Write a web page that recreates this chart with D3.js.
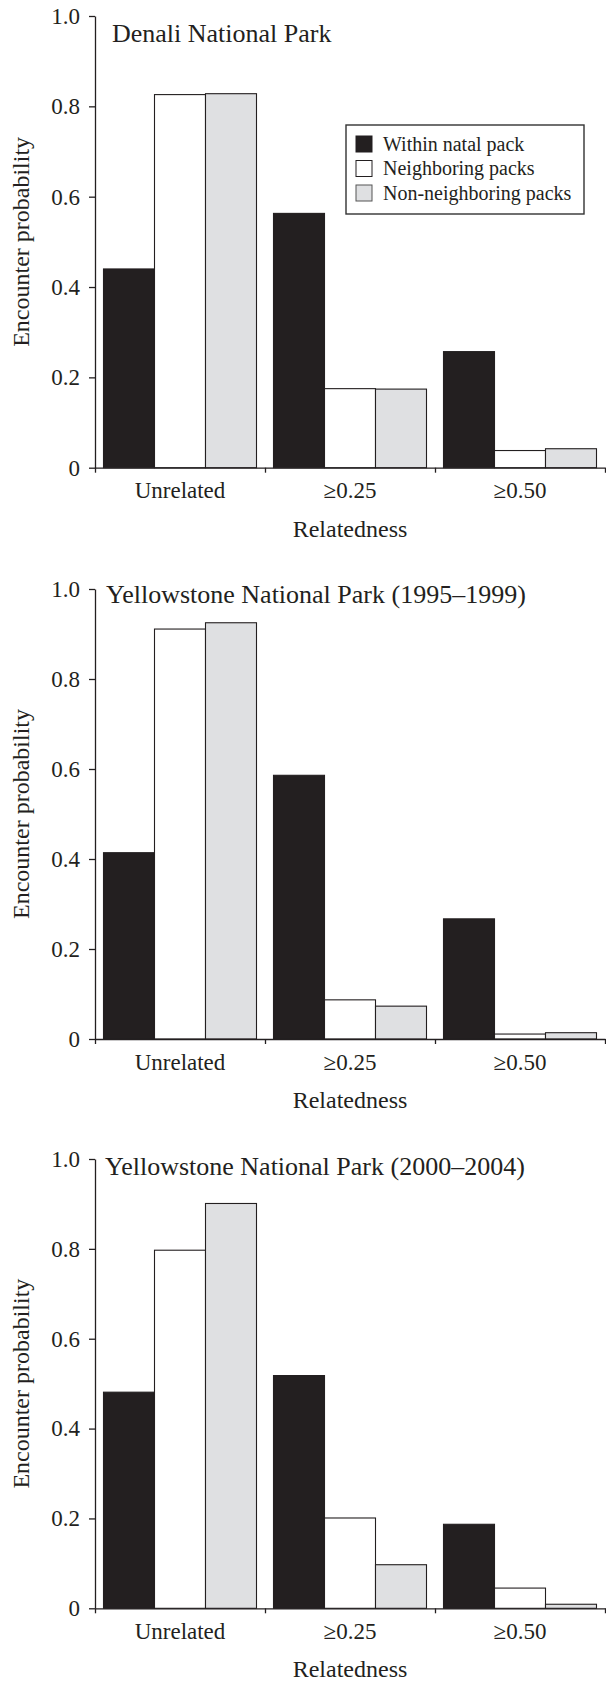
<!DOCTYPE html>
<html>
<head>
<meta charset="utf-8">
<script src="https://cdnjs.cloudflare.com/ajax/libs/d3/7.8.5/d3.min.js"></script>
<style>
  html, body { margin: 0; padding: 0; background: #fff; }
  svg text { font-family: "Liberation Serif", "Times New Roman", serif; fill: #231f20; }
</style>
</head>
<body>
<div id="chart"></div>
<script>
// categories and series
var categories = ["Unrelated", "\u22650.25", "\u22650.50"];
var seriesNames = ["Within natal pack", "Neighboring packs", "Non-neighboring packs"];
var panelTitles = ["Denali National Park", "Yellowstone National Park (1995\u20131999)", "Yellowstone National Park (2000\u20132004)"];
var yTicks = [0, 0.2, 0.4, 0.6, 0.8, 1.0];

// Denali
var denaliWithin = [0.440, 0.563, 0.257];
var denaliNeighbor = [0.826, 0.175, 0.038];
var denaliNonNeighbor = [0.828, 0.174, 0.042];
// Yellowstone 1995-1999
var ys1Within = [0.414, 0.586, 0.267];
var ys1Neighbor = [0.911, 0.087, 0.011];
var ys1NonNeighbor = [0.925, 0.073, 0.014];
// Yellowstone 2000-2004
var ys2Within = [0.481, 0.518, 0.187];
var ys2Neighbor = [0.797, 0.201, 0.045];
var ys2NonNeighbor = [0.901, 0.097, 0.009];

var panelValues = [
    [denaliWithin, denaliNeighbor, denaliNonNeighbor],
    [ys1Within, ys1Neighbor, ys1NonNeighbor],
    [ys2Within, ys2Neighbor, ys2NonNeighbor]
];

var W = 606, H = 1681;
var ink = "#231f20";
var fills = ["#231f20", "#ffffff", "#dfe0e2"];

// layout of each panel (top of 1.0, bottom at 0, title placement)
var panels = [
    { top: 16, bottom: 467.7, titleX: 112, titleY: 42 },
    { top: 589, bottom: 1039, titleX: 106, titleY: 603 },
    { top: 1159, bottom: 1608.3, titleX: 105, titleY: 1175 }
];
var left = 95, right = 605;

var svg = d3.select("#chart").append("svg")
    .attr("width", W)
    .attr("height", H);

var x0 = d3.scaleBand().domain(categories).range([left, right])
    .paddingInner(0.1).paddingOuter(0.05);
var x1 = d3.scaleBand().domain(seriesNames).range([0, x0.bandwidth()]);
var xb = d3.scaleLinear().domain([0, categories.length]).range([left, right]);

panels.forEach(function (p, pi) {
    var g = svg.append("g");
    var y = d3.scaleLinear().domain([0, 1]).range([p.bottom, p.top]);

    var rows = categories.map(function (c, ci) {
        return {
            cat: c,
            vals: seriesNames.map(function (s, si) {
                return { series: s, idx: si, value: panelValues[pi][si][ci] };
            })
        };
    });

    // bars
    var groups = g.append("g").selectAll("g")
        .data(rows)
        .enter().append("g")
        .attr("transform", function (d) { return "translate(" + x0(d.cat) + ",0)"; });

    groups.selectAll("rect")
        .data(function (d) { return d.vals; })
        .enter().append("rect")
        .attr("x", function (d) { return x1(d.series); })
        .attr("y", function (d) { return y(d.value); })
        .attr("width", x1.bandwidth())
        .attr("height", function (d) { return y(0) - y(d.value); })
        .style("fill", function (d) { return fills[d.idx]; })
        .style("stroke", ink)
        .style("stroke-width", 1.1);

    // y axis
    var yAxis = g.append("g")
        .attr("transform", "translate(" + left + ",0)")
        .call(d3.axisLeft(y).tickValues(yTicks).tickSize(6).tickSizeOuter(0).tickPadding(9)
            .tickFormat(function (d) { return d === 0 ? "0" : d3.format(".1f")(d); }));
    yAxis.selectAll("path, line").style("stroke", ink).style("stroke-width", 1.3);
    yAxis.selectAll("text").style("font-size", "23px").attr("fill", ink);

    // x axis: ticks at group boundaries
    var xAxis = g.append("g")
        .attr("transform", "translate(0," + p.bottom + ")")
        .call(d3.axisBottom(xb).tickValues(d3.range(categories.length + 1)).tickSize(5).tickSizeOuter(0)
            .tickFormat(""));
    xAxis.selectAll("path, line").style("stroke", ink).style("stroke-width", 1.3);

    // category labels
    g.append("g").selectAll("text")
        .data(categories)
        .enter().append("text")
        .attr("x", function (d) { return x0(d) + x0.bandwidth() / 2; })
        .attr("y", p.bottom + 30.5)
        .style("text-anchor", "middle")
        .style("font-size", "23px")
        .text(function (d) { return d; });

    // axis titles
    g.append("text")
        .attr("x", (left + right) / 2)
        .attr("y", p.bottom + 69)
        .style("text-anchor", "middle")
        .style("font-size", "24px")
        .text("Relatedness");

    g.append("text")
        .attr("transform", "translate(29," + ((p.top + p.bottom) / 2) + ") rotate(-90)")
        .style("text-anchor", "middle")
        .style("font-size", "24px")
        .text("Encounter probability");

    // panel title
    g.append("text")
        .attr("x", p.titleX)
        .attr("y", p.titleY)
        .style("font-size", "26px")
        .text(panelTitles[pi]);

    // legend only in first panel
    if (pi === 0) {
        var lg = g.append("g").attr("transform", "translate(346,125)");
        lg.append("rect")
            .attr("width", 238)
            .attr("height", 89)
            .style("fill", "#fff")
            .style("stroke", "#333")
            .style("stroke-width", 1.4);
        var items = lg.selectAll("g.item")
            .data(seriesNames)
            .enter().append("g")
            .attr("class", "item")
            .attr("transform", function (d, i) { return "translate(10," + (11 + i * 24.5) + ")"; });
        items.append("rect")
            .attr("width", 16)
            .attr("height", 16)
            .style("fill", function (d, i) { return fills[i]; })
            .style("stroke", function (d, i) { return i === 2 ? "#555" : ink; })
            .style("stroke-width", 1);
        items.append("text")
            .attr("x", 27)
            .attr("y", 14.5)
            .style("font-size", "20px")
            .text(function (d) { return d; });
    }
});
</script>
</body>
</html>
